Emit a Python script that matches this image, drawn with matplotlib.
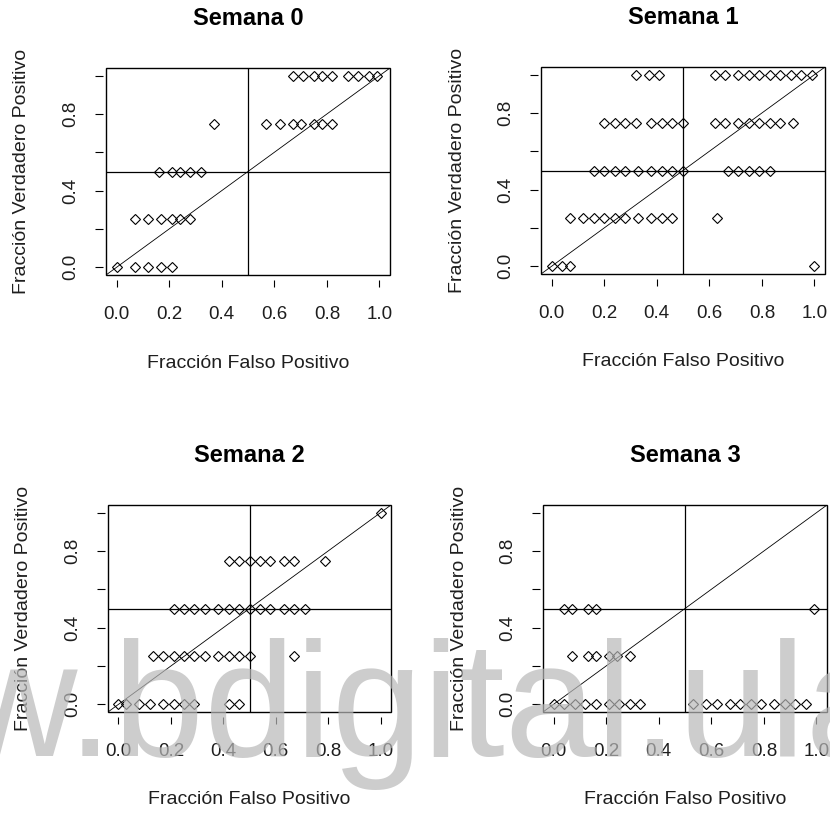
import matplotlib
matplotlib.use('Agg')
import matplotlib.pyplot as plt
from matplotlib.patches import Rectangle

plt.rcParams['font.family'] = ['Liberation Sans', 'DejaVu Sans']

# fraccion verdadero positivo (rows) shared by every panel
tpf_levels = [0.0, 0.25, 0.5, 0.75, 1.0]

# fraccion falso positivo, one list per tpf level
sem0_fpf = [[0.0, 0.07, 0.12, 0.17, 0.21],
            [0.07, 0.12, 0.17, 0.21, 0.24, 0.28],
            [0.16, 0.21, 0.24, 0.28, 0.32],
            [0.37, 0.57, 0.62, 0.67, 0.70, 0.75, 0.78, 0.82],
            [0.67, 0.71, 0.75, 0.78, 0.82, 0.88, 0.92, 0.96, 0.99]]
sem1_fpf = [[0.0, 0.04, 0.07, 1.0],
            [0.07, 0.12, 0.16, 0.20, 0.24, 0.28, 0.33, 0.38, 0.42, 0.46, 0.63],
            [0.16, 0.20, 0.24, 0.28, 0.33, 0.38, 0.42, 0.46, 0.50, 0.67, 0.71, 0.75, 0.79, 0.83],
            [0.20, 0.24, 0.28, 0.32, 0.38, 0.42, 0.46, 0.50, 0.62, 0.66, 0.71, 0.75, 0.79, 0.83, 0.87, 0.92],
            [0.32, 0.37, 0.41, 0.62, 0.66, 0.71, 0.75, 0.79, 0.83, 0.87, 0.91, 0.95, 0.99]]
sem2_fpf = [[0.0, 0.03, 0.08, 0.12, 0.17, 0.21, 0.25, 0.29, 0.42, 0.46],
            [0.13, 0.17, 0.21, 0.25, 0.29, 0.33, 0.38, 0.42, 0.46, 0.50, 0.67],
            [0.21, 0.25, 0.29, 0.33, 0.38, 0.42, 0.46, 0.50, 0.54, 0.58, 0.63, 0.67, 0.71],
            [0.42, 0.46, 0.50, 0.54, 0.58, 0.63, 0.67, 0.79],
            [1.0]]
sem3_fpf = [[0.0, 0.04, 0.08, 0.12, 0.16, 0.21, 0.25, 0.29, 0.33,
             0.53, 0.58, 0.62, 0.67, 0.71, 0.75, 0.79, 0.84, 0.88, 0.92, 0.96],
            [0.07, 0.13, 0.16, 0.21, 0.24, 0.29],
            [0.04, 0.07, 0.13, 0.16, 0.99],
            [],
            []]

titles = ['Semana 0', 'Semana 1', 'Semana 2', 'Semana 3']
panels = [sem0_fpf, sem1_fpf, sem2_fpf, sem3_fpf]

ticks = [0.0, 0.2, 0.4, 0.6, 0.8, 1.0]
xticklabels = ['0.0', '0.2', '0.4', '0.6', '0.8', '1.0']
yticklabels = ['0.0', '', '0.4', '', '0.8', '']

W, H = 830, 814
fig = plt.figure(figsize=(W / 100, H / 100), dpi=100)

# plot boxes in pixels: left, top, right, bottom
boxes = [(106, 68, 390, 275), (541, 67, 825, 274),
         (108, 505, 391, 712), (543, 505, 827, 712)]

txt = '#1e1e1e'
for (l, t, r, b), title, rows in zip(boxes, titles, panels):
    w, h = r - l, b - t
    ax = fig.add_axes([l / W, 1 - b / H, w / W, h / H])
    ax.set_xlim(-0.04, 1.04)
    ax.set_ylim(-0.04, 1.04)

    ax.axhline(0.5, color='k', lw=0.9)
    ax.axvline(0.5, color='k', lw=0.9)
    ax.plot([-0.04, 1.04], [-0.04, 1.04], color='k', lw=0.6)

    for lev, xs in zip(tpf_levels, rows):
        if xs:
            ax.plot(xs, [lev] * len(xs), 'D', ms=4.8, mfc='none', mec='k',
                    mew=0.8, clip_on=False)

    for s in ax.spines.values():
        s.set_visible(False)
    ax.spines['bottom'].set_position(('outward', 3.6))
    ax.spines['left'].set_position(('outward', 2.5))
    ax.add_patch(Rectangle((0, 0), 1, 1, transform=ax.transAxes, fill=False,
                           lw=1.0, ec='k', clip_on=False))

    ax.set_xticks(ticks)
    ax.set_xticklabels(xticklabels)
    ax.set_yticks(ticks)
    ax.set_yticklabels(yticklabels, rotation=90, va='center')
    ax.tick_params(axis='x', length=5, width=0.8, pad=14, labelsize=13.5,
                   labelcolor=txt)
    ax.tick_params(axis='y', length=6, width=0.8, pad=11, labelsize=13.5,
                   labelcolor=txt)

    ax.text(0.5, 1 + 49 / h, title, transform=ax.transAxes, ha='center',
            va='center', fontsize=17, fontweight='bold')
    ax.text(0.5, -88 / h, 'Fracción Falso Positivo', transform=ax.transAxes,
            ha='center', va='center', fontsize=14, color=txt)
    ax.text(-84 / w, 0.5, 'Fracción Verdadero Positivo', transform=ax.transAxes,
            ha='center', va='center', rotation=90, fontsize=14, color=txt)

# watermark of the scanned source
fig.text(-42 / W, 1 - 756 / H, 'w.bdigital.ula', fontsize=118, color='#b8b8b8',
         alpha=0.7, ha='left', va='baseline')

fig.savefig('out.png', dpi=100)
